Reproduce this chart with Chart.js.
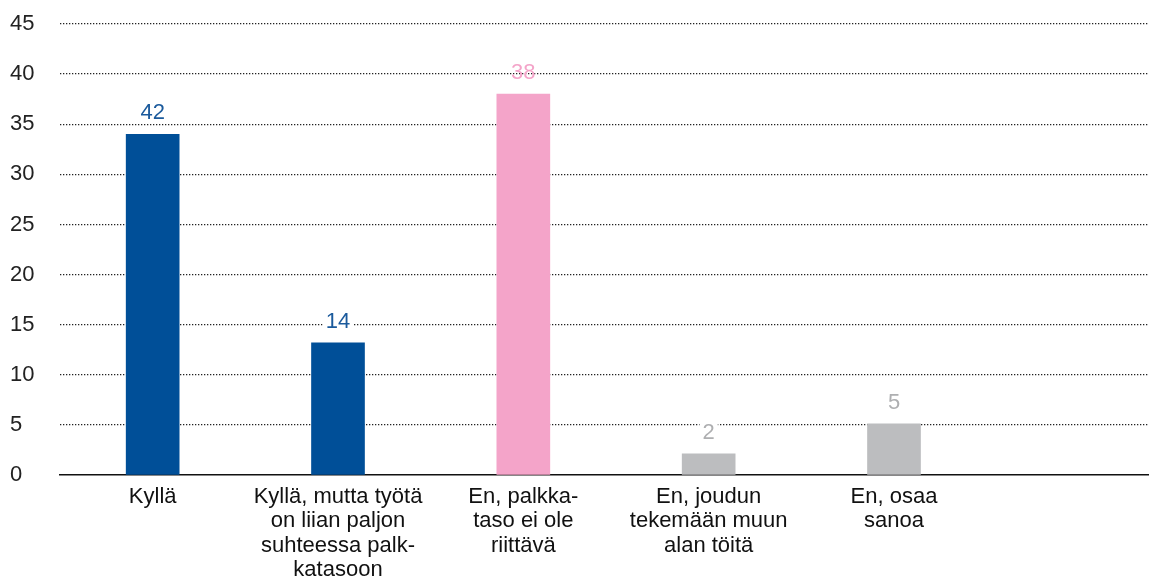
<!DOCTYPE html>
<html>
<head>
<meta charset="utf-8">
<script src="https://cdn.jsdelivr.net/npm/chart.js@4"></script>
<style>
  html, body { margin: 0; padding: 0; background: #fff; overflow: hidden; width: 1149px; height: 578px; }
  #kaavio { display: block; }
</style>
</head>
<body>
<canvas id="kaavio" width="1172" height="578"></canvas>
<script>
let vastaukset = [
  "Kyllä",
  ["Kyllä, mutta työtä", "on liian paljon", "suhteessa palk-", "katasoon"],
  ["En, palkka-", "taso ei ole", "riittävä"],
  ["En, joudun", "tekemään muun", "alan töitä"],
  ["En, osaa", "sanoa"],
  ""
];
let pylvaat  = [34, 13.2, 38, 2.1, 5.1];
let arvoteksti = ["42", "14", "38", "2", "5"];
let peitto = [true, true, false, true, true];
let asteikko = [0, 5, 10, 15, 20, 25, 30, 35, 40, 45];

let varit = ['#004f98', '#004f98', '#f4a4c9', '#bcbdbf', '#bcbdbf'];
let tekstivarit = ['#1b5a9c', '#1b5a9c', '#f4a4c9', '#aeafb1', '#aeafb1'];

let fontti = '"Liberation Sans", Arial, Helvetica, sans-serif';

let arvoLaput = {
  id: 'arvoLaput',
  afterDatasetsDraw(chart) {
    let ctx = chart.ctx;
    let meta = chart.getDatasetMeta(0);
    ctx.save();
    ctx.font = '22px ' + fontti;
    ctx.textAlign = 'center';
    ctx.textBaseline = 'middle';
    meta.data.forEach((bar, i) => {
      let y = bar.y - 21;
      if (peitto[i]) {
        let w = ctx.measureText(arvoteksti[i]).width;
        ctx.fillStyle = '#fff';
        ctx.fillRect(bar.x - w / 2 - 3, y - 10, w + 6, 20);
      }
      ctx.fillStyle = tekstivarit[i];
      ctx.fillText(arvoteksti[i], bar.x, y);
    });
    ctx.restore();
  }
};

let ctx = document.getElementById('kaavio').getContext('2d');

let kaavio = new Chart(ctx, {
  type: 'bar',
  data: {
    labels: vastaukset,
    datasets: [{
      data: pylvaat,
      backgroundColor: varit,
      barThickness: 53
    }]
  },
  options: {
    responsive: false,
    animation: false,
    layout: { padding: { left: 10, top: 24, right: 0, bottom: 0 } },
    plugins: {
      legend: { display: false },
      tooltip: { enabled: false }
    },
    scales: {
      x: {
        grid: { display: false },
        border: { display: true, color: '#111', width: 1.5 },
        ticks: {
          color: '#111',
          font: { family: fontti, size: 22, lineHeight: 1.1 },
          padding: 2,
          maxRotation: 0,
          autoSkip: false
        },
        afterFit: (s) => { s.height = 103; }
      },
      y: {
        min: 0,
        max: 45,
        afterBuildTicks: (s) => { s.ticks = asteikko.map(v => ({ value: v })); },
        grid: {
          color: (c) => c.tick && c.tick.value === 0 ? 'rgba(0,0,0,0)' : '#222',
          lineWidth: 1.3,
          drawTicks: false
        },
        border: { display: false, dash: [1.3, 1.7] },
        ticks: {
          color: '#222',
          font: { family: fontti, size: 22 },
          crossAlign: 'far',
          padding: 0
        },
        afterFit: (s) => { s.width = 50; }
      }
    }
  },
  plugins: [arvoLaput]
});
</script>
</body>
</html>
